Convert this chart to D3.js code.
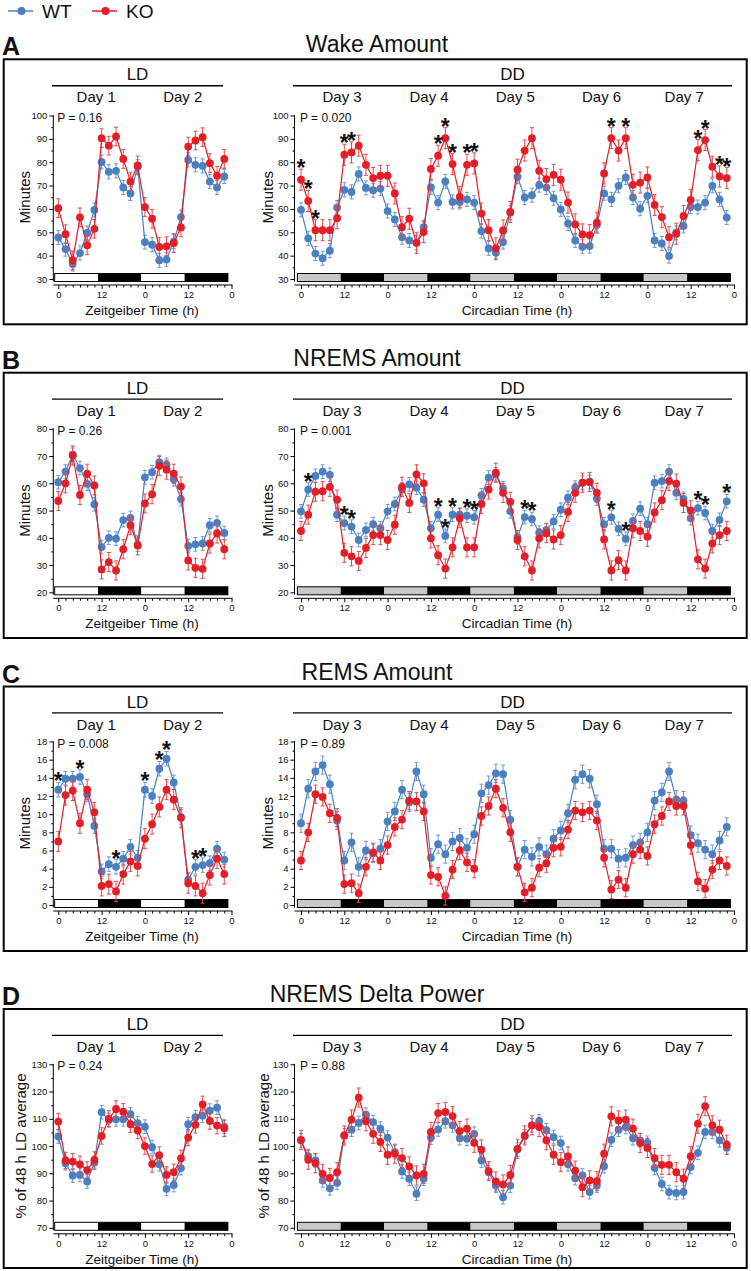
<!DOCTYPE html>
<html>
<head>
<meta charset="utf-8">
<script src="https://cdn.jsdelivr.net/npm/d3@7"></script>
<style>
  body { margin: 0; background: #fff; }
  text { font-family: "Liberation Sans", Arial, Helvetica, sans-serif; fill: #111; }
</style>
</head>
<body>
<script>
// time bins (h)
var hoursLD = [0,2,4,6,8,10,12,14,16,18,20,22,24,26,28,30,32,34,36,38,40,42,44,46];
var hoursDD = [0,2,4,6,8,10,12,14,16,18,20,22,24,26,28,30,32,34,36,38,40,42,44,46,
  48,50,52,54,56,58,60,62,64,66,68,70,72,74,76,78,80,82,84,86,88,90,92,94,
  96,98,100,102,104,106,108,110,112,114,116,118];

// light/dark phase edges of the bar under each plot
var edgesLD = [-1, 11, 23, 35, 47];
var edgesDD = [-1, 11, 23, 35, 47, 59, 71, 83, 95, 107, 119];

// A: wake
var wakeLD_WT = [47.8,42.8,36.4,41.1,49.7,59.6,80.1,75.9,76.3,69.2,66.6,78.1,45.8,44.7,38.0,38.3,46.0,56.5,81.0,78.9,78.4,71.7,69.2,73.9];
var wakeLD_KO = [60.3,49.2,38.0,56.4,44.4,51.5,90.3,87.1,91.0,81.4,71.7,78.6,60.8,55.8,43.7,44.0,45.4,52.1,86.7,89.3,90.7,79.6,74.2,81.4];
var wakeDD_WT = [59.6,47.4,40.9,38.9,42.1,60.6,68.2,67.3,75.0,69.0,68.0,68.7,
  59.1,55.5,47.9,46.5,45.5,52.2,69.2,62.7,71.8,63.0,63.0,64.1,
  62.7,50.5,43.1,41.2,45.8,58.4,73.8,64.9,65.9,70.2,69.2,64.6,
  59.8,53.8,46.5,43.8,44.1,53.1,66.7,64.1,69.9,73.5,64.9,60.1,
  65.6,46.5,45.2,39.8,49.8,52.7,61.0,60.8,62.7,69.9,64.1,56.3];
var wakeDD_KO = [72.5,63.4,50.9,50.9,50.9,56.0,83.2,84.2,87.1,78.9,73.2,74.2,
  74.2,66.6,52.2,55.8,45.5,50.1,77.1,82.8,90.3,79.2,65.2,78.9,
  79.5,58.0,50.9,43.1,50.8,58.7,76.8,85.0,90.3,76.3,72.8,74.6,
  72.5,62.7,53.4,49.1,48.8,54.1,75.2,90.3,85.0,90.3,70.3,71.3,
  73.5,61.7,56.5,47.9,49.4,57.0,63.9,85.2,89.5,78.1,73.9,73.2];

// B: NREMS
var nremLD_WT = [60.4,64.3,70.5,65.6,59.8,52.3,36.6,40.0,39.7,46.5,47.3,37.5,62.2,64.1,67.8,66.8,61.5,54.2,37.0,37.6,37.9,44.6,45.5,41.8];
var nremLD_KO = [53.5,60.0,70.2,55.7,63.5,59.2,28.4,31.1,28.0,35.8,44.6,37.2,52.6,56.0,66.4,65.0,63.5,58.8,31.7,29.0,28.6,37.9,41.6,35.8];
var nremDD_WT = [49.7,57.7,62.7,64.3,63.1,48.5,45.4,44.1,39.2,42.9,45.0,43.5,
  49.7,52.4,57.7,59.6,58.4,54.0,43.5,48.5,40.7,48.5,48.5,48.1,
  47.5,55.6,62.1,63.3,58.1,49.7,40.2,47.6,46.9,41.9,42.9,46.0,
  50.3,54.7,58.4,60.2,60.5,54.4,45.0,47.5,43.3,39.6,46.2,50.7,
  45.0,60.2,60.8,64.3,56.5,54.3,47.2,50.9,49.1,42.5,46.6,53.4];
var nremDD_KO = [42.5,48.5,56.9,57.1,58.7,54.0,34.5,33.2,31.5,36.3,41.0,41.0,
  39.2,44.8,58.7,52.8,63.3,60.0,39.8,33.6,28.7,36.5,47.2,36.5,
  36.5,52.4,57.7,63.9,56.5,53.2,39.2,33.2,28.0,39.8,41.7,39.4,
  41.0,49.5,56.5,60.2,60.5,56.5,39.4,28.0,31.8,28.0,43.5,42.5,
  40.4,49.3,53.8,60.8,59.9,52.8,50.1,32.1,28.7,37.9,41.0,42.5];

// C: REMS
var remLD_WT = [12.7,13.9,13.9,14.1,12.2,8.7,3.7,4.5,4.2,5.1,6.4,5.2,12.7,12.0,15.0,16.1,13.5,9.7,2.8,4.2,4.4,4.6,6.2,5.0];
var remLD_KO = [7.0,12.1,12.6,9.0,12.7,10.2,2.1,2.3,1.5,3.4,4.8,4.3,7.3,8.9,10.8,12.7,11.6,9.6,2.4,2.1,1.3,3.3,5.1,3.4];
var remDD_WT = [9.0,12.8,14.7,15.4,13.3,9.3,4.9,6.9,4.2,6.0,5.7,6.2,
  9.2,10.3,12.7,11.3,14.7,12.2,5.2,6.7,5.6,7.0,7.4,6.3,
  7.8,12.3,13.2,14.5,14.4,9.4,4.2,6.1,5.3,6.4,5.6,7.3,
  8.2,10.1,13.8,14.4,13.9,11.1,6.2,6.2,5.1,5.2,6.6,6.9,
  8.0,11.5,12.4,14.7,11.6,11.5,7.7,6.8,6.1,5.6,7.1,8.6];
var remDD_KO = [4.9,8.0,12.2,11.9,10.1,9.6,2.3,2.4,1.3,4.2,5.8,4.9,
  6.6,8.6,9.4,11.5,11.4,10.3,3.3,3.1,1.0,3.9,6.0,4.7,
  4.0,9.8,10.9,12.8,10.7,8.0,4.2,1.4,1.9,4.1,4.6,6.3,
  6.4,8.3,10.4,10.2,10.4,9.3,5.2,1.7,2.8,1.9,5.6,6.1,
  5.4,8.9,9.8,11.4,10.9,10.9,6.6,2.6,1.8,3.9,4.9,4.3];

// D: NREMS delta power
var deltaLD_WT = [103.5,93.7,89.2,89.4,87.0,93.9,112.4,109.6,109.8,109.8,111.7,108.4,107.1,99.6,93.3,84.3,85.7,91.9,108.0,110.6,111.1,113.0,114.1,107.1];
var deltaLD_KO = [109.0,94.7,94.3,93.3,91.2,94.9,103.7,110.0,113.6,112.6,108.0,105.7,100.0,93.4,96.7,89.4,90.4,95.5,103.1,107.8,115.3,109.2,107.5,106.5];
var deltaDD_WT = [102.1,96.3,94.7,87.4,84.5,86.5,103.9,106.0,108.5,111.5,108.8,106.4,
  103.1,97.8,90.7,88.0,82.5,88.0,103.1,106.1,109.1,107.6,102.9,102.7,
  104.5,94.7,90.4,85.5,81.2,85.5,98.7,103.6,107.6,109.1,105.8,103.3,
  101.1,93.3,88.2,89.2,83.1,85.5,92.6,102.3,106.0,107.0,102.9,102.1,
  101.2,92.0,86.1,83.1,82.8,83.1,92.3,97.5,105.2,105.2,102.1,99.4];
var deltaDD_KO = [102.3,95.0,93.7,89.8,88.3,90.4,103.9,109.7,117.8,109.1,104.5,101.5,
  96.8,97.2,95.6,92.5,89.2,89.8,105.2,112.1,112.5,111.0,105.5,106.4,
  101.2,98.7,90.8,87.0,85.9,89.4,99.0,103.9,107.6,107.0,102.1,96.8,
  94.1,96.2,91.0,84.9,87.4,87.1,97.2,110.9,109.4,109.7,106.4,101.1,
  99.3,95.6,93.1,93.1,90.4,88.0,96.3,108.2,114.6,107.6,106.0,100.5];

// typical SEM per panel (A..D)
var semLD_WT = [3.0, 2.5, 0.8, 2.5];
var semLD_KO = [4.0, 3.5, 1.1, 3.0];
var semDD_WT = [3.0, 2.5, 1.0, 2.5];
var semDD_KO = [4.5, 3.5, 1.0, 3.5];

var pLD = ["P = 0.16", "P = 0.26", "P = 0.008", "P = 0.24"];
var pDD = ["P = 0.020", "P = 0.001", "P = 0.89", "P = 0.88"];

// indices of significant bins (asterisks)
var starsLD = [[], [], [0,3,8,12,14,15,19,20], []];
var starsDD = [[0,1,2,6,7,19,20,21,23,24,43,45,55,56,58,59],
  [1,6,7,19,20,21,23,24,31,32,43,45,55,56,59], [], []];

var titles = ["Wake Amount", "NREMS Amount", "REMS Amount", "NREMS Delta Power"];
var letters = ["A", "B", "C", "D"];
var yTitles = ["Minutes", "Minutes", "Minutes", "% of 48 h LD average"];
var yTicks = [[30,40,50,60,70,80,90,100], [20,30,40,50,60,70,80],
  [0,2,4,6,8,10,12,14,16,18], [70,80,90,100,110,120,130]];
var xTicksLD = [0, 12, 24, 36, 48];
var xTicksDD = [0, 12, 24, 36, 48, 60, 72, 84, 96, 108, 120];
var daysLD = ["Day 1", "Day 2"];
var daysDD = ["Day 3", "Day 4", "Day 5", "Day 6", "Day 7"];
var dayHoursLD = [10.5, 34.5];
var dayHoursDD = [11.4, 35.5, 59.4, 83.3, 106.2];

var seriesLD = [[wakeLD_WT, wakeLD_KO], [nremLD_WT, nremLD_KO], [remLD_WT, remLD_KO], [deltaLD_WT, deltaLD_KO]];
var seriesDD = [[wakeDD_WT, wakeDD_KO], [nremDD_WT, nremDD_KO], [remDD_WT, remDD_KO], [deltaDD_WT, deltaDD_KO]];

// layout
var boxTops = [59.3, 372.7, 686.5, 1009];
var boxBottoms = [324.3, 638, 951, 1268];
var plotTops = [115.5, 428.8, 741.5, 1064.3];
var plotH = 163.5;

var blue = "#4a80c2", red = "#e31e26";
var blueErr = "#6a98d2", redErr = "#e8474d";

var svg = d3.select("body").append("svg")
    .attr("width", 751)
    .attr("height", 1271);

// legend
var legend = [{ name: "WT", color: blue, x: 8 }, { name: "KO", color: red, x: 92 }];
legend.forEach(function(d) {
    svg.append("line").attr("x1", d.x).attr("x2", d.x + 25).attr("y1", 11).attr("y2", 11)
        .attr("stroke", d.color).attr("stroke-width", 1.5);
    svg.append("circle").attr("cx", d.x + 13.5).attr("cy", 11).attr("r", 4).attr("fill", d.color);
    svg.append("text").attr("x", d.x + 34).attr("y", 18).attr("font-size", 19).text(d.name);
});

var xLD = d3.scaleLinear().domain([0, 48]).range([58.3, 231.5]);
var xDD = d3.scaleLinear().domain([0, 120]).range([301, 734]);

var sections = [
    { key: "LD", x: xLD, axisX: 53.3, hours: hoursLD, edges: edgesLD, light: "#fff",
      lineX: [52, 223], days: daysLD, dayHours: dayHoursLD, xTicks: xTicksLD,
      xTitle: "Zeitgeiber Time (h)", xTitleX: 142, yTitleX: 25,
      series: seriesLD, semWT: semLD_WT, semKO: semLD_KO, p: pLD, stars: starsLD },
    { key: "DD", x: xDD, axisX: 294.5, hours: hoursDD, edges: edgesDD, light: "#c8c8c8",
      lineX: [293, 732], days: daysDD, dayHours: dayHoursDD, xTicks: xTicksDD,
      xTitle: "Circadian Time (h)", xTitleX: 517, yTitleX: 268,
      series: seriesDD, semWT: semDD_WT, semKO: semDD_KO, p: pDD, stars: starsDD }
];

letters.forEach(function(letter, k) {
    var g = svg.append("g");
    var boxTop = boxTops[k], plotTop = plotTops[k], plotBottom = plotTop + plotH;

    g.append("text").attr("x", 2).attr("y", boxTop - 4)
        .attr("font-size", 25).attr("font-weight", "bold").text(letter);
    g.append("text").attr("x", 377).attr("y", boxTop - 7).attr("text-anchor", "middle")
        .attr("font-size", 23).text(titles[k]);
    g.append("rect").attr("x", 3.7).attr("y", boxTop)
        .attr("width", 743).attr("height", boxBottoms[k] - boxTop)
        .attr("fill", "none").attr("stroke", "#000").attr("stroke-width", 2);

    var ticks = yTicks[k];
    var y = d3.scaleLinear().domain([ticks[0], ticks[ticks.length - 1]]).range([plotBottom, plotTop]);
    var step = ticks[1] - ticks[0];
    var minor = ticks.slice(0, -1).map(function(t) { return t + step / 2; });

    sections.forEach(function(s) {
        var x = s.x;
        var xMax = s.hours[s.hours.length - 1] + 2;

        // header
        g.append("text").attr("x", (s.lineX[0] + s.lineX[1]) / 2).attr("y", boxTop + 21)
            .attr("text-anchor", "middle").attr("font-size", 17).text(s.key);
        g.append("line").attr("x1", s.lineX[0]).attr("x2", s.lineX[1])
            .attr("y1", boxTop + 26.4).attr("y2", boxTop + 26.4)
            .attr("stroke", "#000").attr("stroke-width", 1.4);
        g.selectAll(null).data(s.days).enter().append("text")
            .attr("x", function(d, i) { return x(s.dayHours[i]); })
            .attr("y", boxTop + 43).attr("text-anchor", "middle").attr("font-size", 15)
            .text(function(d) { return d; });

        // y axis
        var yAxis = g.append("g").attr("transform", "translate(" + s.axisX + ",0)")
            .call(d3.axisLeft(y).tickValues(ticks).tickSize(4).tickSizeOuter(0).tickPadding(2));
        yAxis.attr("font-family", "Liberation Sans, Arial, sans-serif").attr("font-size", 9.5);
        yAxis.select(".domain").remove();
        var yMinor = g.append("g").attr("transform", "translate(" + s.axisX + ",0)")
            .call(d3.axisLeft(y).tickValues(minor).tickSize(2).tickFormat(""));
        yMinor.select(".domain").remove();
        g.append("line").attr("x1", s.axisX).attr("x2", s.axisX)
            .attr("y1", plotTop - 0.5).attr("y2", plotBottom + 2.5)
            .attr("stroke", "#000").attr("stroke-width", 1);

        var ytx = s.yTitleX - (k === 3 ? 4 : 0);
        g.append("text")
            .attr("transform", "translate(" + ytx + "," + (plotTop + plotH / 2) + ") rotate(-90)")
            .attr("text-anchor", "middle").attr("dy", "0.36em").attr("font-size", 15)
            .text(yTitles[k]);

        // light/dark bar
        var barTop = plotBottom - 5.5;
        var phases = s.edges.slice(0, -1).map(function(e, i) { return [e, s.edges[i + 1], i]; });
        g.selectAll(null).data(phases).enter().append("rect")
            .attr("x", function(d) { return x(d[0]); })
            .attr("width", function(d) { return x(d[1]) - x(d[0]); })
            .attr("y", barTop).attr("height", 8)
            .attr("fill", function(d) { return d[2] % 2 === 0 ? s.light : "#000"; });
        g.append("rect").attr("x", x(s.edges[0])).attr("y", barTop)
            .attr("width", x(s.edges[s.edges.length - 1]) - x(s.edges[0])).attr("height", 8)
            .attr("fill", "none").attr("stroke", "#000").attr("stroke-width", 1);

        // x axis
        var axisY = plotBottom + 6;
        var xAxis = g.append("g").attr("transform", "translate(0," + axisY + ")")
            .call(d3.axisBottom(x).tickValues(s.xTicks).tickSize(4).tickSizeOuter(0).tickPadding(2)
                .tickFormat(function(d) { return d % 24; }));
        xAxis.attr("font-family", "Liberation Sans, Arial, sans-serif").attr("font-size", 9.5);
        xAxis.select(".domain").remove();
        var xMinorVals = s.hours.concat([xMax]).filter(function(h) { return h % 12 !== 0; });
        var xMinor = g.append("g").attr("transform", "translate(0," + axisY + ")")
            .call(d3.axisBottom(x).tickValues(xMinorVals).tickSize(2.5).tickFormat(""));
        xMinor.select(".domain").remove();
        g.append("line").attr("x1", s.axisX).attr("x2", x(xMax) + 1)
            .attr("y1", axisY).attr("y2", axisY).attr("stroke", "#000").attr("stroke-width", 1);
        g.append("text").attr("x", s.xTitleX).attr("y", axisY + 30)
            .attr("text-anchor", "middle").attr("font-size", 13.5).text(s.xTitle);

        // P value
        g.append("text").attr("x", x(0) - 1).attr("y", plotTop + 6)
            .attr("font-size", 12).text(s.p[k]);

        // series
        var pair = s.series[k];
        var sems = [s.semWT[k], s.semKO[k]];
        var cols = [[blue, blueErr], [red, redErr]];
        pair.forEach(function(vals, j) {
            var e = sems[j];
            var pts = vals.map(function(v, i) { return { h: s.hours[i], v: v }; });
            var eg = g.append("g").attr("stroke", cols[j][1]).attr("stroke-width", 1);
            eg.selectAll(null).data(pts).enter().append("path")
                .attr("d", function(d) {
                    var cx = x(d.h), y1 = y(d.v - e), y2 = y(d.v + e);
                    return "M" + cx + "," + y1 + "V" + y2 +
                        "M" + (cx - 2) + "," + y1 + "H" + (cx + 2) +
                        "M" + (cx - 2) + "," + y2 + "H" + (cx + 2);
                });
            g.append("path").datum(pts)
                .attr("fill", "none").attr("stroke", cols[j][0]).attr("stroke-width", 1.2)
                .attr("d", d3.line().x(function(d) { return x(d.h); }).y(function(d) { return y(d.v); }));
            g.selectAll(null).data(pts).enter().append("circle")
                .attr("cx", function(d) { return x(d.h); })
                .attr("cy", function(d) { return y(d.v); })
                .attr("r", 3.9).attr("fill", cols[j][0]);
        });

        // asterisks
        g.selectAll(null).data(s.stars[k]).enter().append("text")
            .attr("x", function(i) { return x(s.hours[i]); })
            .attr("y", function(i) {
                var top = Math.max(pair[0][i] + sems[0], pair[1][i] + sems[1]);
                return y(top) - 6 + 13;
            })
            .attr("text-anchor", "middle").attr("font-size", 23).attr("font-weight", "bold")
            .text("*");
    });
});
</script>
</body>
</html>
